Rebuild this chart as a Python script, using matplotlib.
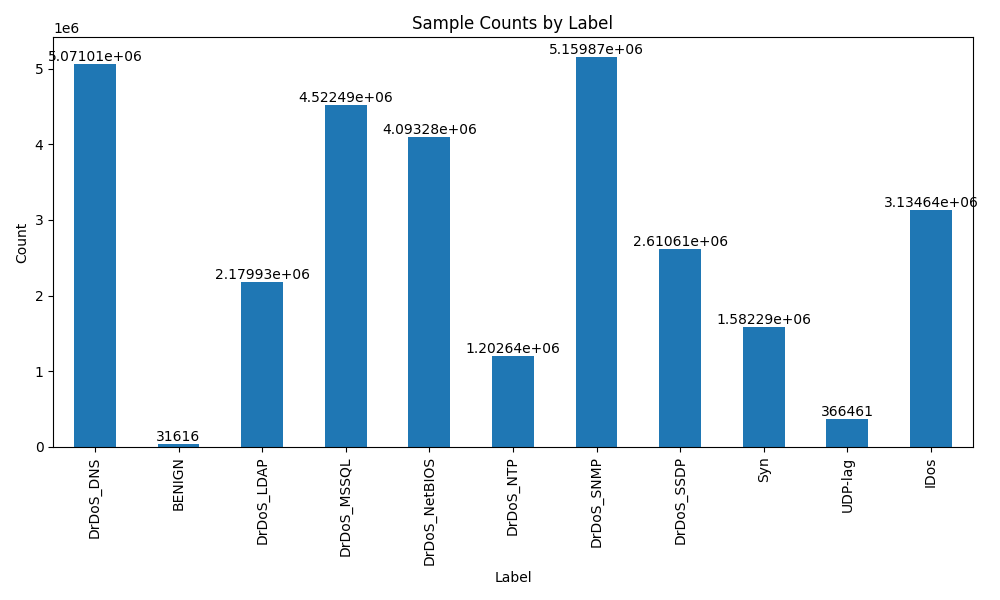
import pandas as pd
import matplotlib
matplotlib.use('Agg')
import matplotlib.pyplot as plt

# 类别与计数
labels = ['DrDoS_DNS', 'BENIGN', 'DrDoS_LDAP', 'DrDoS_MSSQL', 'DrDoS_NetBIOS',
          'DrDoS_NTP', 'DrDoS_SNMP', 'DrDoS_SSDP', 'Syn', 'UDP-lag', 'IDos']
counts = [5071011, 31616, 2179930, 4522492, 4093279,
          1202642, 5159870, 2610611, 1582289, 366461, 3134645]

s = pd.Series(counts, index=pd.Index(labels, name='Label'))

fig, ax = plt.subplots(figsize=(10, 6))
s.plot(kind='bar', ax=ax, color='#1f77b4')
ax.bar_label(ax.containers[0])
ax.set_title('Sample Counts by Label')
ax.set_xlabel('Label')
ax.set_ylabel('Count')
plt.tight_layout()
plt.savefig('out.png', dpi=100)
